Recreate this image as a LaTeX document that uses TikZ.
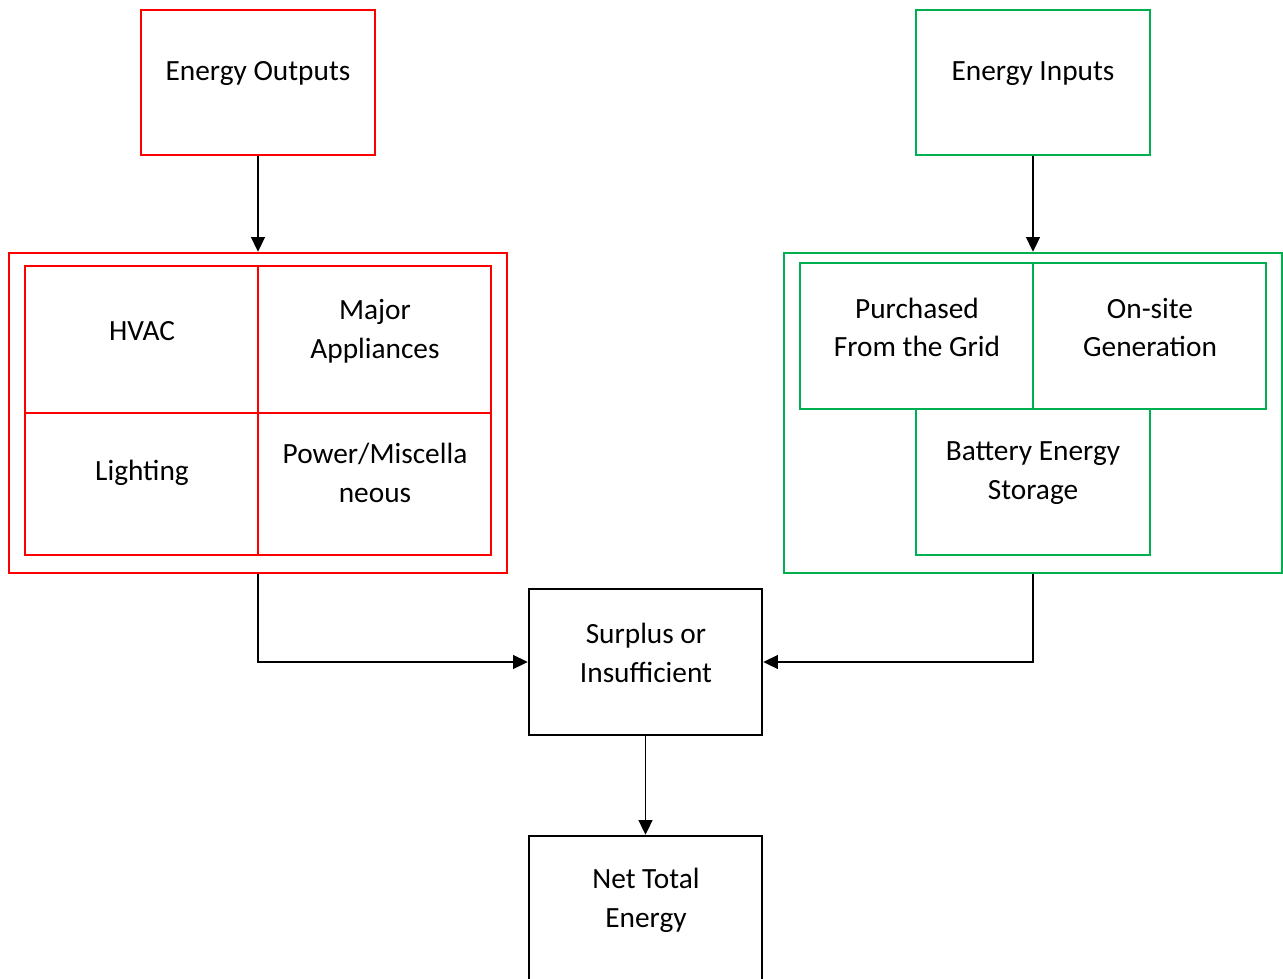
\documentclass[tikz,border=0pt]{standalone}
\usepackage{fontspec}
\setmainfont{Carlito}
\usetikzlibrary{fit,arrows.meta}
\definecolor{outred}{RGB}{255,0,0}
\definecolor{ingreen}{RGB}{0,176,80}
\tikzset{
  frame/.style={draw, line width=1.9pt, inner sep=0pt},
  redbox/.style={frame, draw=outred},
  greenbox/.style={frame, draw=ingreen},
  blackbox/.style={frame, draw=black},
  caption/.style={align=center, font=\fontsize{22}{29}\selectfont, inner sep=0pt},
  flow/.style={line width=0.8pt, -{Triangle[length=11pt,width=10.5pt]}}
}
\begin{document}
\begin{tikzpicture}[x=0.75pt, y=-0.75pt]
\useasboundingbox (0,0) rectangle (1283,979);

% top-level boxes
\node[redbox, fit={(141,10)(375,155)}] (out) {};
\node[greenbox, fit={(916,10)(1150,155)}] (in) {};

% output group
\node[redbox, fit={(9,253)(507,573)}] (outgrp) {};
\node[redbox, fit={(25,266)(258,413)}] (hvac) {};
\node[redbox, fit={(258,266)(491,413)}] (major) {};
\node[redbox, fit={(25,413)(258,555)}] (light) {};
\node[redbox, fit={(258,413)(491,555)}] (misc) {};

% input group
\node[greenbox, fit={(784,253)(1282,573)}] (ingrp) {};
\node[greenbox, fit={(800,263)(1033,409)}] (grid) {};
\node[greenbox, fit={(1033,263)(1266,409)}] (gen) {};
\node[greenbox, fit={(916,409)(1150,555)}] (batt) {};

% result boxes
\node[blackbox, fit={(529,589)(762,735)}] (surplus) {};
\node[blackbox, fit={(529,836)(762,982)}] (net) {};

% captions
\node[caption] (outT) at (258,73.5) {Energy Outputs};
\node[caption] (inT) at (1033,73.5) {Energy Inputs};
\node[caption] (hvacT) at (142,331) {HVAC};
\node[caption] (majorT) at (375,331) {Major\\Appliances};
\node[caption] (lightT) at (142,473) {Lighting};
\node[caption] (miscT) at (375,473) {Power/Miscella\\neous};
\node[caption] (gridT) at (917,327.5) {Purchased\\From the Grid};
\node[caption] (genT) at (1150,327.5) {On-site\\Generation};
\node[caption] (battT) at (1033,473) {Battery Energy\\Storage};
\node[caption] (surplusT) at (646,653) {Surplus or\\Insufficient};
\node[caption] (netT) at (646,900) {Net Total\\Energy};

% connectors
\draw[flow] (out.south) -- (outgrp.north);
\draw[flow] (in.south) -- (in.south |- ingrp.north);
\draw[flow] (outgrp.south) |- (surplus.west);
\draw[flow] (in.south |- ingrp.south) |- (surplus.east);
\draw[flow] (surplus.south) -- (net.north);
\end{tikzpicture}
\end{document}
